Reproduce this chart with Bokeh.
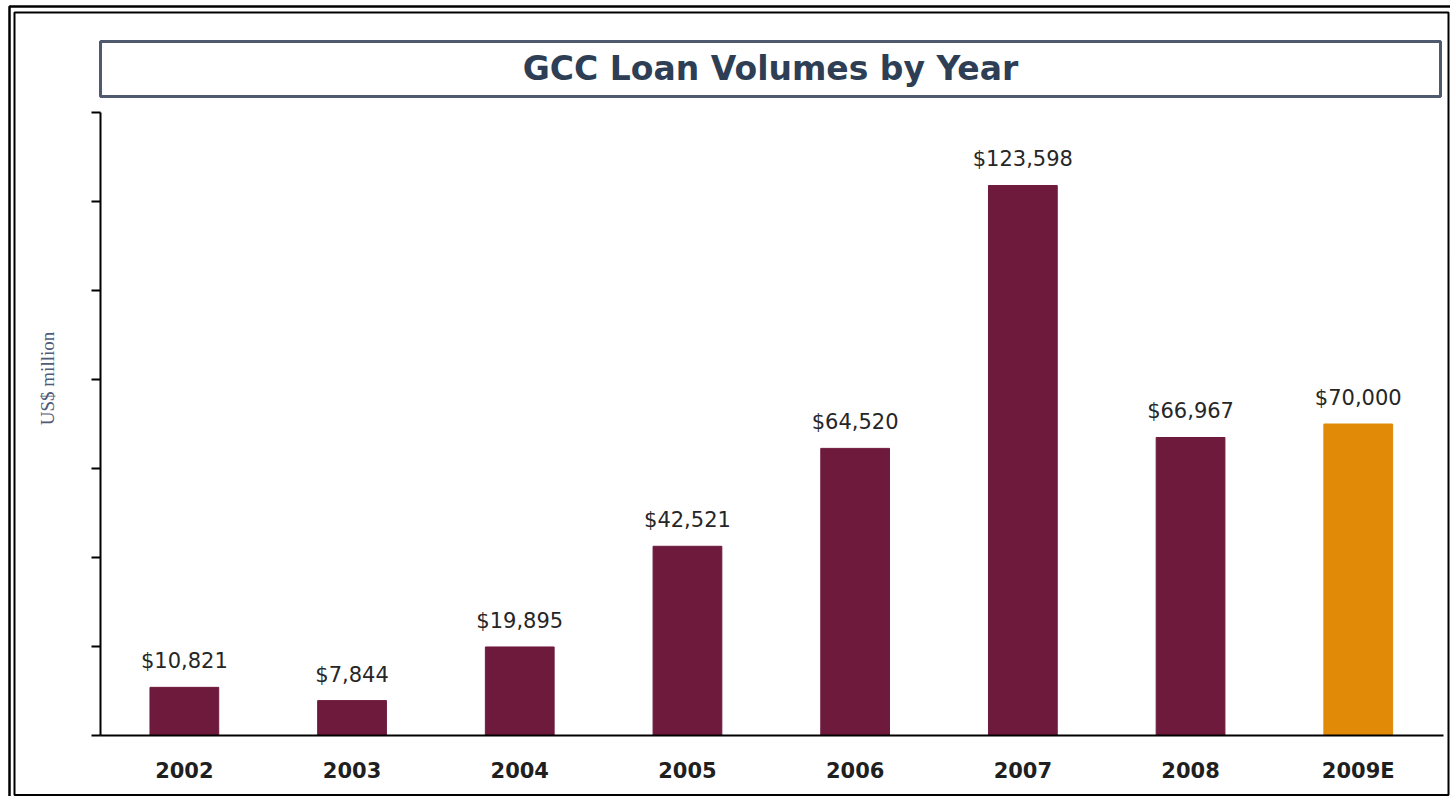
import math
from bokeh.plotting import figure
from bokeh.models import Range1d, FixedTicker, BoxAnnotation, Label, ColumnDataSource
from bokeh.core.properties import value
from bokeh.embed import file_html
from bokeh.resources import INLINE

years = ["2002", "2003", "2004", "2005", "2006", "2007", "2008", "2009E"]
volumes = [10821, 7844, 19895, 42521, 64520, 123598, 66967, 70000]
bar_colors = ["#6E1A3C"] * 7 + ["#E08A08"]
y_ticks = [0, 20000, 40000, 60000, 80000, 100000, 120000, 140000]
title_text = "GCC Loan Volumes by Year"
y_label = "US$ million"

# ---- layout (pixels) ----
W, H = 1450, 796
BASE_PX = 735          # pixel row of y = 0
TOP_PX = 112           # pixel row of y = 140000
X0_PX = 100            # left edge of first category slot
SLOT_PX = 167.7        # width of one category slot
k = (BASE_PX - TOP_PX) / y_ticks[-1]   # px per unit

xpos = list(range(len(years)))

src = ColumnDataSource(dict(
    x=xpos, top=volumes, color=bar_colors,
    lbl=["${:,}".format(v) for v in volumes],
))

p = figure(width=W, height=H, output_backend="svg", toolbar_location=None,
           x_range=Range1d(-0.5 - X0_PX / SLOT_PX, (W - X0_PX) / SLOT_PX - 0.5),
           y_range=Range1d(-(H - BASE_PX) / k, BASE_PX / k),
           min_border=0, min_border_left=0, min_border_right=0,
           min_border_top=0, min_border_bottom=0)
p.outline_line_color = None
p.xgrid.visible = False
p.ygrid.visible = False
p.background_fill_color = "white"
p.border_fill_color = "white"

p.vbar(x="x", top="top", width=0.41, bottom=0, color="color", source=src)
p.text(x="x", y="top", text="lbl", source=src, y_offset=-26,
       text_align="center", text_baseline="alphabetic",
       text_font=value("DejaVu Sans"), text_font_size="21px", text_color="#262626")

# x axis
xa = p.xaxis[0]
xa.fixed_location = 0
xa.bounds = (-0.5, (1443 - X0_PX) / SLOT_PX - 0.5)
xa.ticker = FixedTicker(ticks=xpos)
xa.major_label_overrides = {i: y for i, y in zip(xpos, years)}
xa.axis_line_width = 2
xa.axis_line_color = "black"
xa.major_tick_line_color = None
xa.major_tick_out = 0
xa.major_tick_in = 0
xa.minor_tick_line_color = None
xa.major_label_standoff = 23
xa.major_label_text_font = "DejaVu Sans"
xa.major_label_text_font_size = "21px"
xa.major_label_text_font_style = "bold"
xa.major_label_text_color = "#1F1F1F"

# y axis
ya = p.yaxis[0]
ya.fixed_location = -0.5
ya.bounds = (0, y_ticks[-1])
ya.ticker = FixedTicker(ticks=y_ticks)
ya.axis_line_width = 2
ya.axis_line_color = "black"
ya.major_tick_line_width = 2
ya.major_tick_line_color = "black"
ya.major_tick_out = 9
ya.major_tick_in = 0
ya.minor_tick_line_color = None
ya.major_label_text_color = None

def sy(fy):
    return H - fy

scr = dict(left_units="screen", right_units="screen", top_units="screen", bottom_units="screen")

# y axis caption
p.add_layout(Label(x=47, y=sy(378), x_units="screen", y_units="screen", angle=math.pi / 2,
                   text=y_label, text_align="center", text_baseline="middle",
                   text_font="Liberation Serif", text_font_size="19px",
                   text_color="#4F5B78"))

# title box
p.add_layout(BoxAnnotation(left=100, right=1440, top=sy(41), bottom=sy(96), **scr,
                           fill_alpha=0, line_color="#4F5A6E", line_alpha=1, line_width=3))
p.add_layout(Label(x=770, y=sy(68), x_units="screen", y_units="screen",
                   text=title_text, text_align="center", text_baseline="middle",
                   text_font="DejaVu Sans", text_font_size="33px", text_font_style="bold",
                   text_color="#2D3E55"))

# double border
p.add_layout(BoxAnnotation(left=9, right=W + 6, top=sy(6), bottom=sy(H + 6), **scr,
                           fill_alpha=0, line_color="black", line_alpha=1, line_width=2.5))
p.add_layout(BoxAnnotation(left=14, right=1448, top=sy(12), bottom=sy(794.5), **scr,
                           fill_alpha=0, line_color="black", line_alpha=1, line_width=2))

open("out.html", "w").write(file_html(p, INLINE))
